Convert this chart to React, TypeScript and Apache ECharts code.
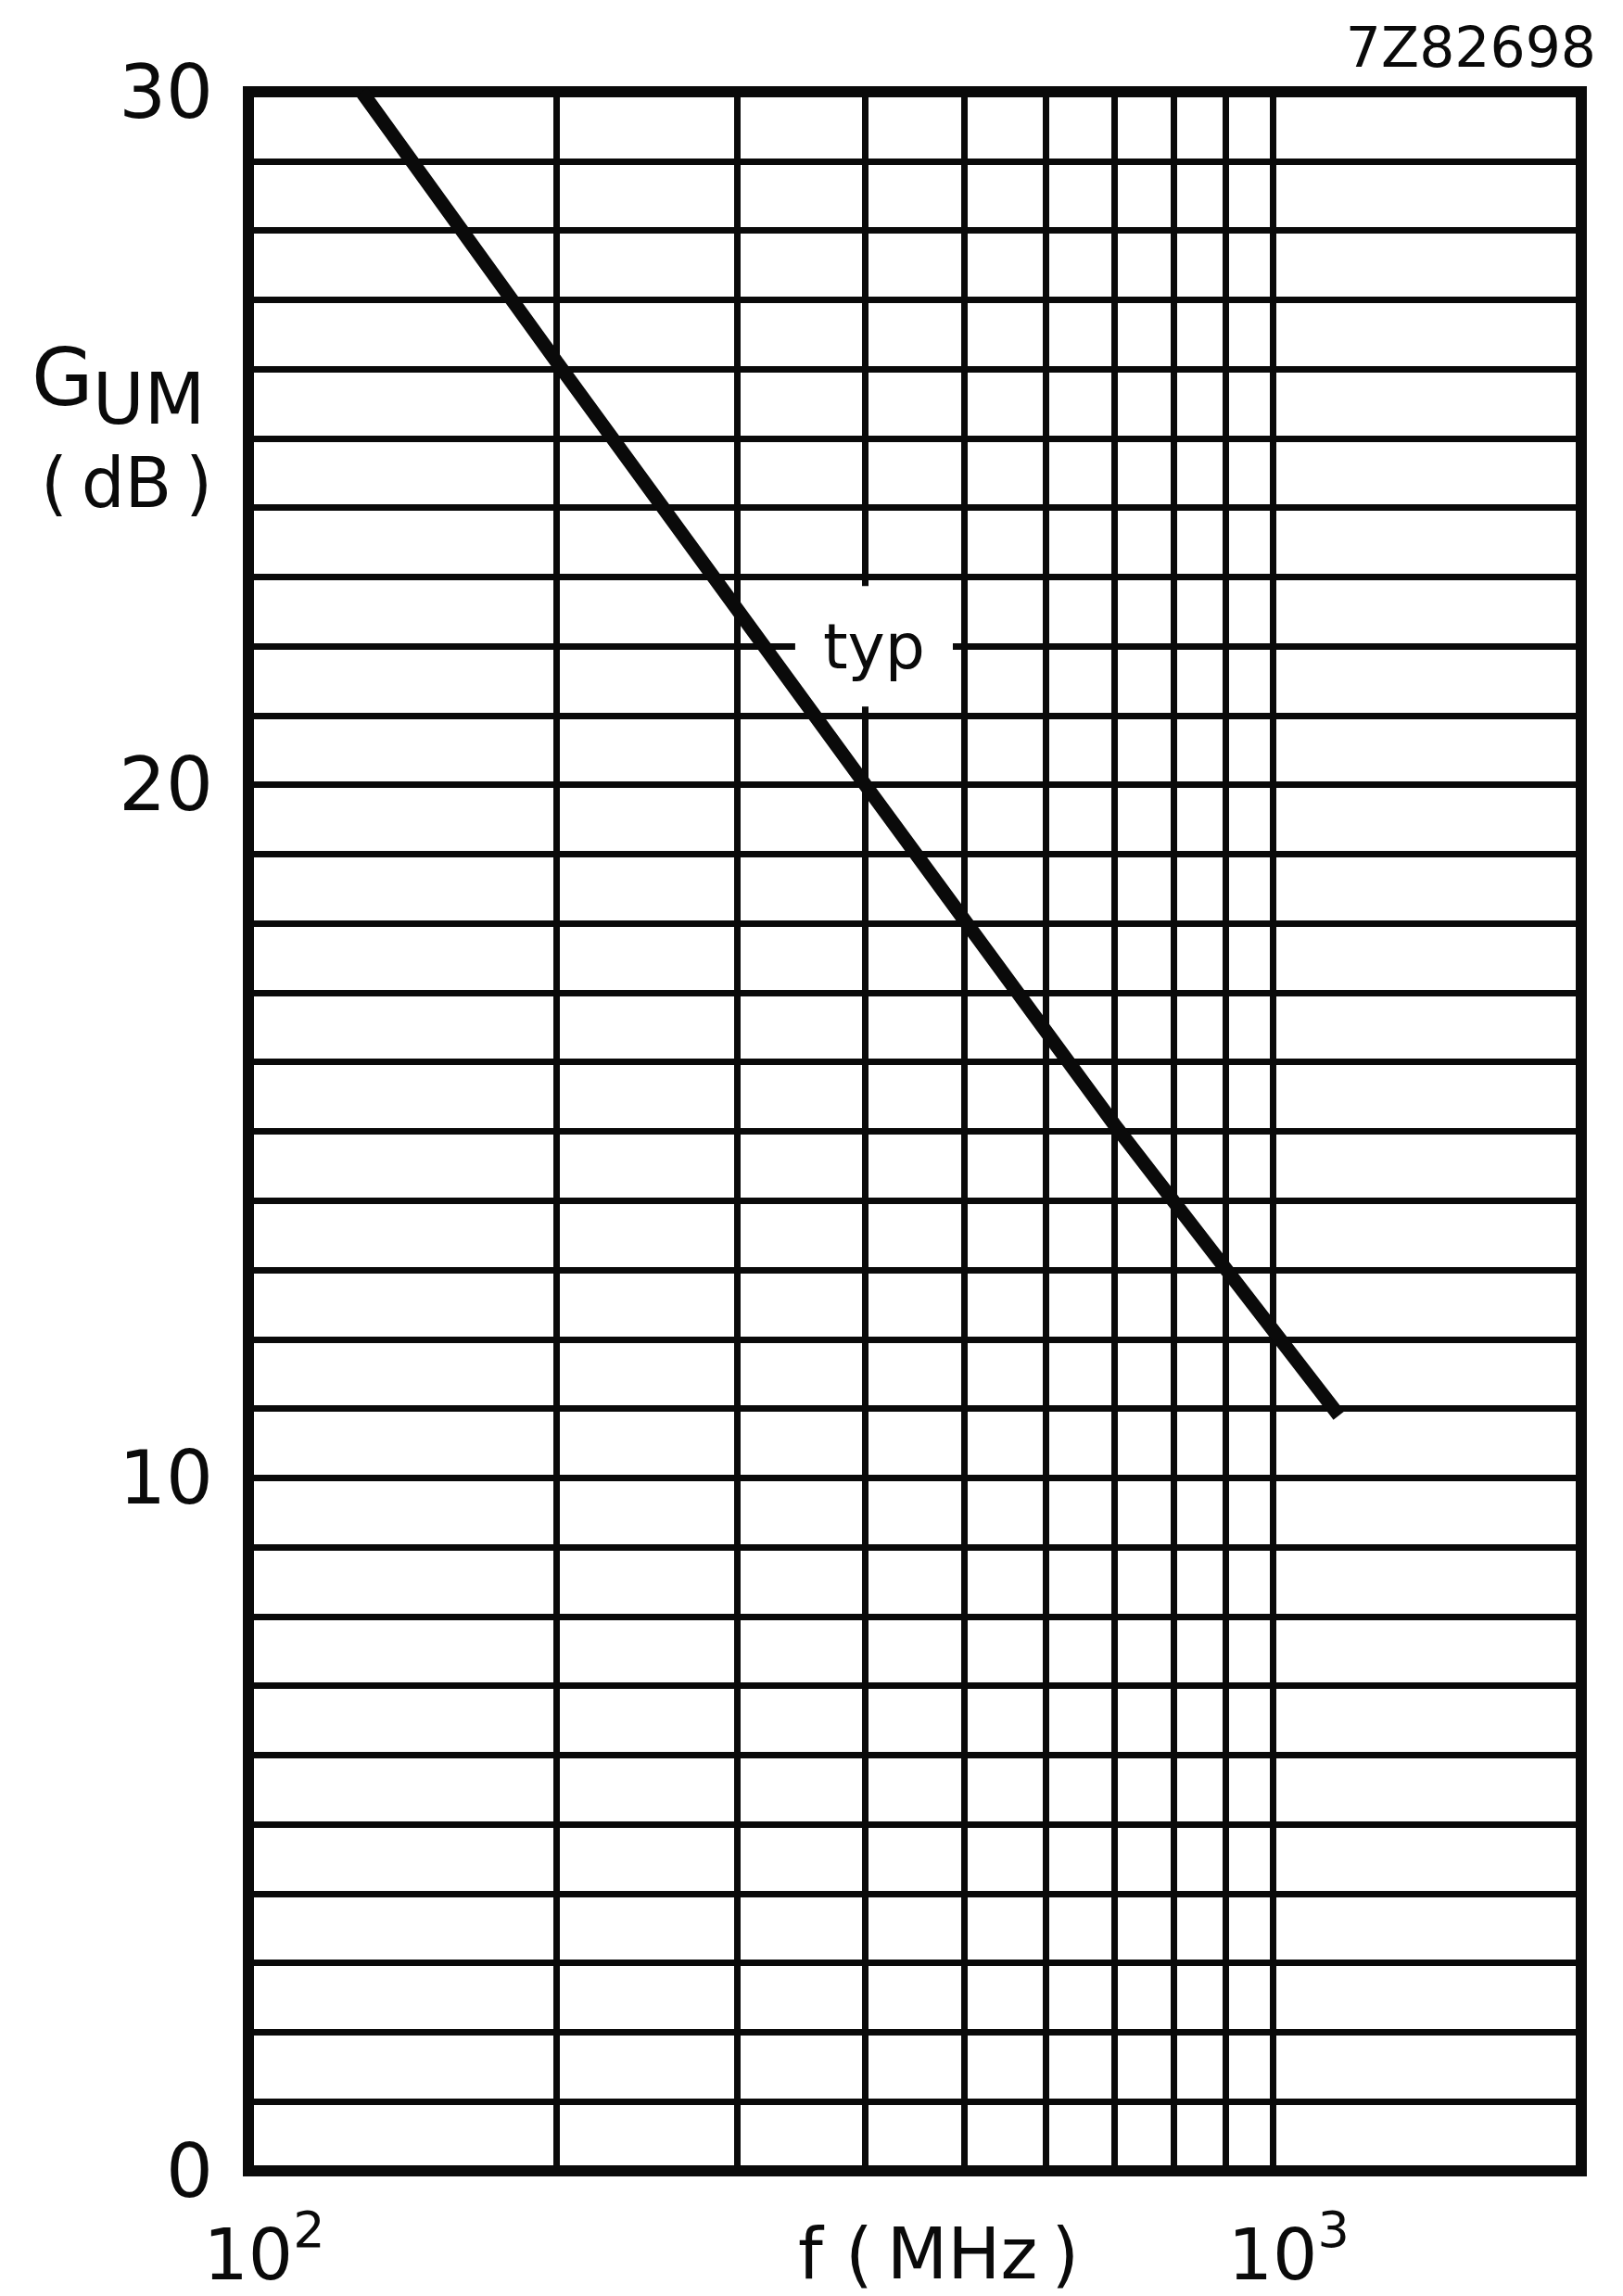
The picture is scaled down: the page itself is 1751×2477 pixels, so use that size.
import React, { useEffect, useRef } from "react";
import * as echarts from "echarts";

// Typical maximum unilateral power gain versus frequency
const freqMHz = [129, 200, 400, 700, 1160];
const gainDb = [30, 26.1, 20, 15.1, 10.9];

// Log-paper verticals inside the 100 MHz .. 2 GHz span
const gridFreqs = [200, 300, 400, 500, 600, 700, 800, 900, 1000];
const yTickLabels = [0, 10, 20, 30];
const decadeExponents: Record<number, string> = { 100: "2", 1000: "3" };
const curveTag = { text: "typ", freq: 408, gain: 22 };
const figureCode = "7Z82698";

const INK = "#0a0a0a";
const FONT = "DejaVu Sans";

export default function App() {
  const ref = useRef<HTMLDivElement>(null);

  useEffect(() => {
    const chart = echarts.init(ref.current!, null, { renderer: "svg" });
    chart.setOption({
      animation: false,
      backgroundColor: "#ffffff",
      grid: {
        left: 268,
        top: 99,
        right: 45,
        bottom: 135,
        show: true,
        borderColor: INK,
        borderWidth: 12,
        backgroundColor: "transparent",
      },
      xAxis: {
        type: "log",
        logBase: 10,
        min: 100,
        max: 2000,
        axisLine: { show: false },
        axisTick: { show: false },
        splitLine: { show: false },
        axisLabel: {
          margin: 36,
          formatter: (v: number) => {
            const e = decadeExponents[Math.round(v)];
            return e ? `{b|10}{s|${e}}` : "";
          },
          rich: {
            b: {
              fontFamily: FONT,
              fontSize: 76,
              color: INK,
              lineHeight: 108,
              padding: [0, 0, 0, 34],
            },
            s: {
              fontFamily: FONT,
              fontSize: 54,
              color: INK,
              lineHeight: 54,
              verticalAlign: "top",
            },
          },
        },
      },
      yAxis: {
        type: "value",
        min: 0,
        max: 30,
        interval: 1,
        axisLine: { show: false },
        axisTick: { show: false },
        splitLine: { show: true, lineStyle: { color: INK, width: 7 } },
        axisLabel: {
          margin: 38,
          fontFamily: FONT,
          fontSize: 80,
          color: INK,
          formatter: (v: number) => (yTickLabels.includes(v) ? String(v) : ""),
        },
      },
      series: [
        {
          type: "line",
          name: "typ",
          data: freqMHz.map((f, i) => [f, gainDb[i]]),
          symbol: "none",
          silent: true,
          clip: true,
          z: 20,
          lineStyle: { color: INK, width: 15, cap: "butt" },
          markLine: {
            silent: true,
            z: 3,
            symbol: ["none", "none"],
            label: { show: false },
            emphasis: { disabled: true },
            lineStyle: { color: INK, width: 7, type: "solid" },
            data: gridFreqs.map((f) => ({ xAxis: f })),
          },
        },
        {
          type: "scatter",
          data: [[curveTag.freq, curveTag.gain]],
          symbolSize: 1,
          silent: true,
          z: 10,
          itemStyle: { color: "rgba(0,0,0,0)", opacity: 1 },
          label: {
            show: true,
            position: "inside",
            formatter: curveTag.text,
            fontFamily: FONT,
            fontSize: 68,
            lineHeight: 66,
            color: INK,
            opacity: 1,
            backgroundColor: "#ffffff",
            padding: [32, 30],
          },
        },
      ],
      graphic: [
        {
          type: "text",
          right: 29,
          top: 21,
          style: { text: figureCode, font: `60px '${FONT}'`, fill: INK },
        },
        {
          type: "text",
          left: 34,
          top: 364,
          style: { text: "G", font: `86px '${FONT}'`, fill: INK },
        },
        {
          type: "text",
          left: 100,
          top: 392,
          style: { text: "UM", font: `76px '${FONT}'`, fill: INK },
        },
        {
          type: "text",
          left: 44,
          top: 484,
          style: { text: "(\u2009dB\u2009)", font: `74px '${FONT}'`, fill: INK },
        },
        {
          type: "text",
          left: 861,
          top: 2393,
          style: { text: "f (\u2009MHz\u2009)", font: `76px '${FONT}'`, fill: INK },
        },
      ],
    });
    return () => chart.dispose();
  }, []);

  return (
    <div
      ref={ref}
      style={{ position: "absolute", left: 0, top: 0, width: 1751, height: 2477, background: "#fff" }}
    />
  );
}
